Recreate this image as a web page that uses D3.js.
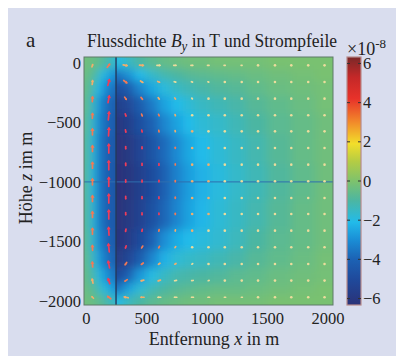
<!DOCTYPE html>
<html>
<head>
<meta charset="utf-8">
<script src="https://cdn.jsdelivr.net/npm/d3@7"></script>
<style>
  body { margin: 0; background: #fff; }
  svg { display: block; font-family: "Liberation Serif", "DejaVu Serif", serif; }
</style>
</head>
<body>
<svg id="chart" width="396" height="356"></svg>
<script>
// ---- data ----
// B_y field, in 1e-8 T, left of the cable (x < 250 m) and right of it
const fieldXLeft = [0, 50, 100, 150, 200, 250];
const fieldXRight = [270, 350, 450, 550, 650, 750, 850, 950, 1100, 1250, 1400, 1600, 1800, 2000];
const fieldZ = [0, -100, -200, -350, -500, -700, -1000, -1300, -1500, -1650, -1800, -1900, -2000];

const byLeft = [
    [-0.3, -0.4, -0.6, -0.9, -1.3, -1.8],
    [-0.4, -0.7, -1.4, -2.1, -2.7, -3.1],
    [-0.5, -1.0, -2.1, -2.9, -3.4, -3.8],
    [-0.6, -1.4, -2.7, -3.5, -3.9, -4.2],
    [-0.7, -1.6, -3.0, -3.7, -4.1, -4.4],
    [-0.8, -1.8, -3.2, -3.9, -4.2, -4.5],
    [-0.8, -1.9, -3.3, -3.9, -4.3, -4.6],
    [-0.8, -1.8, -3.2, -3.9, -4.2, -4.5],
    [-0.7, -1.6, -3.0, -3.7, -4.1, -4.4],
    [-0.6, -1.4, -2.6, -3.4, -3.8, -4.2],
    [-0.5, -1.0, -1.9, -2.7, -3.3, -3.7],
    [-0.4, -0.7, -1.3, -1.9, -2.5, -3.0],
    [-0.3, -0.4, -0.6, -0.9, -1.3, -1.7],
];

const byRight = [
    [-2.0, -1.5, -1.0, -0.7, -0.5, -0.4, -0.3, -0.3, -0.2, -0.2, -0.2, -0.1, -0.1, -0.1],
    [-3.6, -2.9, -2.1, -1.6, -1.2, -1.0, -0.8, -0.7, -0.6, -0.5, -0.4, -0.3, -0.2, -0.1],
    [-4.8, -4.2, -3.2, -2.5, -1.9, -1.5, -1.3, -1.1, -0.9, -0.8, -0.6, -0.4, -0.3, -0.2],
    [-5.6, -5.1, -4.2, -3.4, -2.6, -2.1, -1.8, -1.5, -1.3, -1.1, -0.8, -0.6, -0.4, -0.2],
    [-6.0, -5.6, -4.8, -4.0, -3.2, -2.6, -2.1, -1.8, -1.6, -1.3, -1.0, -0.7, -0.5, -0.3],
    [-6.2, -5.9, -5.3, -4.6, -3.8, -3.1, -2.5, -2.1, -1.8, -1.5, -1.2, -0.8, -0.5, -0.3],
    [-6.3, -6.0, -5.5, -4.9, -4.1, -3.3, -2.7, -2.3, -1.9, -1.6, -1.3, -0.9, -0.6, -0.3],
    [-6.2, -5.9, -5.4, -4.7, -3.9, -3.2, -2.6, -2.2, -1.8, -1.5, -1.2, -0.8, -0.5, -0.3],
    [-6.1, -5.7, -5.0, -4.0, -3.0, -2.4, -2.1, -1.9, -1.7, -1.4, -1.0, -0.7, -0.5, -0.3],
    [-5.8, -5.2, -4.2, -3.2, -2.3, -1.8, -1.6, -1.5, -1.3, -1.1, -0.8, -0.6, -0.4, -0.2],
    [-5.0, -4.0, -2.8, -2.0, -1.5, -1.2, -1.1, -1.0, -0.9, -0.7, -0.6, -0.4, -0.3, -0.2],
    [-3.6, -2.6, -1.8, -1.3, -1.0, -0.8, -0.7, -0.6, -0.5, -0.5, -0.4, -0.3, -0.2, -0.1],
    [-2.0, -1.4, -1.0, -0.7, -0.5, -0.4, -0.3, -0.3, -0.2, -0.2, -0.2, -0.1, -0.1, -0.1],
];

// current arrows: grid positions (m), components in px (u to the right, w upward)
const arrowX = [55, 190, 330, 465, 605, 740, 880, 1015, 1150, 1290, 1425, 1565, 1700, 1840, 1975];
const arrowZ = [-20, -160, -300, -440, -575, -715, -855, -995, -1135, -1270, -1410, -1550, -1690, -1830, -1970];

const arrowU = [
    [1, 3, 5, 5, 4, 3, 2.5, 2, 1.5, 1.2, 1, 0.8, 0.6, 0.5, 0.4],
    [0.5, 2, 4, 3, 2.5, 2, 1.5, 1.2, 1, 0.8, 0.6, 0.5, 0.4, 0.3, 0.3],
    [0.3, 1.5, 2, 2, 1.5, 1, 0.8, 0.6, 0.5, 0.4, 0.3, 0.3, 0.2, 0.2, 0.2],
    [0.2, 1, 1, 1, 0.8, 0.5, 0.4, 0.3, 0.2, 0.2, 0.2, 0.1, 0.1, 0.1, 0.1],
    [0, 0.5, 0.5, 0.5, 0.3, 0.3, 0.2, 0.2, 0.1, 0.1, 0.1, 0.1, 0, 0, 0],
    [0, 0, 0, 0, 0, 0, 0, 0, 0, 0, 0, 0, 0, 0, 0],
    [0, 0, 0, 0, 0, 0, 0, 0, 0, 0, 0, 0, 0, 0, 0],
    [0, 0, 0, 0, 0, 0, 0, 0, 0, 0, 0, 0, 0, 0, 0],
    [0, 0, 0, 0, 0, 0, 0, 0, 0, 0, 0, 0, 0, 0, 0],
    [0, 0, 0, 0, 0, 0, 0, 0, 0, 0, 0, 0, 0, 0, 0],
    [0, -0.5, -0.5, -0.5, -0.3, -0.3, -0.2, -0.2, -0.1, -0.1, -0.1, -0.1, 0, 0, 0],
    [-0.2, -1, -1, -1.5, -1, -0.8, -0.5, -0.3, -0.2, -0.2, -0.2, -0.1, -0.1, -0.1, -0.1],
    [-0.3, -1.5, -2, -2.5, -2, -1.5, -1, -0.6, -0.5, -0.4, -0.3, -0.3, -0.2, -0.2, -0.2],
    [-1, -2, -3, -3.5, -3, -2.5, -2, -1.2, -1, -0.8, -0.6, -0.5, -0.4, -0.3, -0.3],
    [-2, -4, -5, -4, -3.5, -3, -2.5, -2, -1.5, -1.2, -1, -0.8, -0.6, -0.5, -0.4],
];

const arrowW = [
    [3, 4, -1, -0.5, 0, 0, 0, 0, 0, 0, 0, 0, 0, 0, 0],
    [5, 7, -3, -2, -1, -0.5, -0.5, -0.4, -0.3, -0.3, -0.2, -0.2, -0.2, -0.1, -0.1],
    [6, 8, -3, -2.5, -2, -1.5, -1, -0.8, -0.6, -0.5, -0.4, -0.3, -0.3, -0.2, -0.2],
    [6, 9, -3, -2.5, -2, -1.5, -1, -0.8, -0.6, -0.5, -0.4, -0.3, -0.3, -0.2, -0.2],
    [7, 9, -3, -2.5, -2, -1.5, -1, -0.8, -0.6, -0.5, -0.4, -0.3, -0.3, -0.2, -0.2],
    [7, 10, -3, -2.5, -2, -1.5, -1, -0.8, -0.6, -0.5, -0.4, -0.3, -0.3, -0.2, -0.2],
    [7, 10, -3, -2.5, -2, -1.5, -1, -0.8, -0.6, -0.5, -0.4, -0.3, -0.3, -0.2, -0.2],
    [7, 10, -3, -2.5, -2, -1.5, -1, -0.8, -0.6, -0.5, -0.4, -0.3, -0.3, -0.2, -0.2],
    [7, 10, -3, -2.5, -2, -1.5, -1, -0.8, -0.6, -0.5, -0.4, -0.3, -0.3, -0.2, -0.2],
    [7, 10, -3, -2.5, -2, -1.5, -1, -0.8, -0.6, -0.5, -0.4, -0.3, -0.3, -0.2, -0.2],
    [7, 9, -3, -2.5, -2, -1.5, -1, -0.8, -0.6, -0.5, -0.4, -0.3, -0.3, -0.2, -0.2],
    [6, 9, -3, -2.5, -2, -1.5, -1, -0.8, -0.6, -0.5, -0.4, -0.3, -0.3, -0.2, -0.2],
    [6, 8, -3, -2, -1.5, -1, -0.8, -0.8, -0.6, -0.5, -0.4, -0.3, -0.3, -0.2, -0.2],
    [5, 6, -2, -1, -1, -0.5, -0.3, -0.4, -0.3, -0.3, -0.2, -0.2, -0.2, -0.1, -0.1],
    [2, 3, 1, 0, 0, 0, 0, 0, 0, 0, 0, 0, 0, 0, 0],
];

// arrow colour level per row (0 pale ... 3 red)
const arrowLevel = [
    "121100000000000",
    "132110000000000",
    "232211000000000",
    "233221000000000",
    "233321100000000",
    "233332110000000",
    "233332110000000",
    "233332110000000",
    "233332110000000",
    "233332110000000",
    "233321100000000",
    "233221000000000",
    "232211000000000",
    "132110000000000",
    "121100000000000",
];
const arrowColors = ["#ecdc9c", "#f3ae6c", "#f27a56", "#ef3c5a"];

const cableX = 250;      // vertical cable line
const levelZ = -1000;    // horizontal line

const xTicks = [0, 500, 1000, 1500, 2000];
const zTicks = [0, -500, -1000, -1500, -2000];
const colorTicks = [-6, -4, -2, 0, 2, 4, 6];

// washed-out jet colour map
const colorStopValues = [-6.33, -5.0, -4.0, -3.0, -2.1, -1.0, 0.0, 1.0, 1.9, 3.0, 4.2, 5.3, 6.33];
const colorStopColors = ["#2a3278", "#1f4a9c", "#1c62b4", "#1a8ed6", "#22bbea", "#4cb6a2", "#7ec26c",
    "#b4cc44", "#f2de2a", "#f28a2a", "#e8322a", "#c42828", "#7a2828"];

// ---- layout ----
const plot = { left: 84, top: 57, width: 249, height: 248 };
const bar = { left: 347, width: 14 };

const svg = d3.select("#chart");

svg.append("rect")
    .attr("x", 8).attr("y", 8)
    .attr("width", 388).attr("height", 348)
    .attr("fill", "#d9ddee");

const x = d3.scaleLinear().domain([-15, 2045]).range([plot.left, plot.left + plot.width]);
const z = d3.scaleLinear().domain([50, -2035]).range([plot.top, plot.top + plot.height]);
const color = d3.scaleLinear().domain(colorStopValues).range(colorStopColors).clamp(true);

const defs = svg.append("defs");
defs.append("filter")
    .attr("id", "soft")
    .attr("x", "-20%").attr("y", "-20%").attr("width", "140%").attr("height", "140%")
    .append("feGaussianBlur")
    .attr("stdDeviation", 4);

defs.append("clipPath").attr("id", "clipLeft")
    .append("rect")
    .attr("x", x(-15)).attr("y", plot.top)
    .attr("width", x(cableX) - x(-15)).attr("height", plot.height);
defs.append("clipPath").attr("id", "clipRight")
    .append("rect")
    .attr("x", x(cableX)).attr("y", plot.top)
    .attr("width", x(2045) - x(cableX)).attr("height", plot.height);

// cell edges: midpoints between neighbours, outer cells pushed past the clip
function edges(vals, pad) {
    return vals.map((v, k) => [
        k === 0 ? v - pad : (vals[k - 1] + v) / 2,
        k === vals.length - 1 ? v + pad : (v + vals[k + 1]) / 2,
    ]);
}

svg.append("rect")
    .attr("x", plot.left).attr("y", plot.top)
    .attr("width", plot.width).attr("height", plot.height)
    .attr("fill", color(-0.2));

function drawField(xs, values, clipId) {
    const xe = edges(xs, 150);
    const ze = edges(fieldZ, -150);
    const cells = [];
    values.forEach((row, j) => row.forEach((v, i) => cells.push({ i, j, v })));

    svg.append("g")
        .attr("clip-path", `url(#${clipId})`)
        .append("g")
        .attr("filter", "url(#soft)")
        .selectAll("rect")
        .data(cells)
        .join("rect")
        .attr("x", d => x(xe[d.i][0]))
        .attr("width", d => x(xe[d.i][1]) - x(xe[d.i][0]) + 0.5)
        .attr("y", d => z(ze[d.j][0]))
        .attr("height", d => z(ze[d.j][1]) - z(ze[d.j][0]) + 0.5)
        .attr("fill", d => color(d.v));
}

drawField(fieldXLeft, byLeft, "clipLeft");
drawField(fieldXRight, byRight, "clipRight");

// horizontal and vertical lines
svg.append("line")
    .attr("x1", x(-15)).attr("x2", x(2045))
    .attr("y1", z(levelZ)).attr("y2", z(levelZ))
    .attr("stroke", "#2f6fae").attr("stroke-width", 1);
svg.append("line")
    .attr("x1", x(cableX)).attr("x2", x(cableX))
    .attr("y1", plot.top).attr("y2", plot.top + plot.height)
    .attr("stroke", "#243a5c").attr("stroke-width", 1.4);

// current arrows
const arrows = [];
arrowZ.forEach((zv, j) => arrowX.forEach((xv, i) => {
    arrows.push({ xv, zv, u: arrowU[j][i], w: arrowW[j][i], c: arrowColors[+arrowLevel[j][i]] });
}));

const arrowG = svg.append("g").attr("class", "arrows");
arrows.forEach(d => {
    const cx = x(d.xv), cy = z(d.zv);
    const dx = d.u, dy = -d.w;
    const len = Math.hypot(dx, dy);
    if (len < 1.2) {
        arrowG.append("circle")
            .attr("cx", cx).attr("cy", cy).attr("r", 1.3)
            .attr("fill", d.c);
        return;
    }
    const ux = dx / len, uy = dy / len;
    const x0 = cx - dx / 2, y0 = cy - dy / 2;
    const x1 = cx + dx / 2, y1 = cy + dy / 2;
    const h = Math.min(3.2, len * 0.5), hw = h * 0.65;
    arrowG.append("line")
        .attr("x1", x0).attr("y1", y0)
        .attr("x2", x1 - ux * h * 0.5).attr("y2", y1 - uy * h * 0.5)
        .attr("stroke", d.c).attr("stroke-width", 1.7)
        .attr("stroke-linecap", "round");
    arrowG.append("path")
        .attr("d", `M${x1},${y1}L${x1 - ux * h - uy * hw},${y1 - uy * h + ux * hw}L${x1 - ux * h + uy * hw},${y1 - uy * h - ux * hw}Z`)
        .attr("fill", d.c);
});

// frame
svg.append("rect")
    .attr("x", plot.left).attr("y", plot.top)
    .attr("width", plot.width).attr("height", plot.height)
    .attr("fill", "none").attr("stroke", "#5f7a68").attr("stroke-width", 1);

// axes
const xAxisG = svg.append("g")
    .attr("transform", `translate(0,${plot.top + plot.height})`)
    .call(d3.axisBottom(x).tickValues(xTicks).tickFormat(d3.format("d")).tickSize(0).tickPadding(7));
const zAxisG = svg.append("g")
    .attr("transform", `translate(${plot.left},0)`)
    .call(d3.axisLeft(z).tickValues(zTicks).tickFormat(d3.format("d")).tickSize(0).tickPadding(3));
[xAxisG, zAxisG].forEach(g => {
    g.select(".domain").remove();
    g.attr("font-family", null).attr("font-size", null);
    g.selectAll("text")
        .attr("font-family", "Liberation Serif, serif")
        .attr("font-size", 16.5)
        .attr("fill", "#222");
});

// colour bar
const cScale = d3.scaleLinear().domain([-6.33, 6.33]).range([plot.top + plot.height, plot.top]);
const grad = defs.append("linearGradient")
    .attr("id", "cbar")
    .attr("x1", 0).attr("y1", 1).attr("x2", 0).attr("y2", 0);
grad.selectAll("stop")
    .data(colorStopValues)
    .join("stop")
    .attr("offset", v => (v - cScale.domain()[0]) / (cScale.domain()[1] - cScale.domain()[0]))
    .attr("stop-color", v => color(v));

svg.append("rect")
    .attr("x", bar.left).attr("y", plot.top)
    .attr("width", bar.width).attr("height", plot.height)
    .attr("fill", "url(#cbar)")
    .attr("stroke", "#b88a8a").attr("stroke-width", 1.2);

const cbTicks = svg.append("g").selectAll("g")
    .data(colorTicks)
    .join("g")
    .attr("transform", d => `translate(0,${cScale(d)})`);
cbTicks.append("line")
    .attr("x1", bar.left).attr("x2", bar.left + 3)
    .attr("stroke", "#333").attr("stroke-width", 1);
cbTicks.append("line")
    .attr("x1", bar.left + bar.width - 3).attr("x2", bar.left + bar.width)
    .attr("stroke", "#333").attr("stroke-width", 1);
cbTicks.append("text")
    .attr("x", bar.left + bar.width + 2)
    .attr("dy", "0.34em")
    .attr("font-size", 16.5)
    .attr("fill", "#222")
    .text(d => d3.format("d")(d));

// texts
svg.append("text")
    .attr("x", 26).attr("y", 47)
    .attr("font-size", 21)
    .attr("fill", "#222")
    .text("a");

const title = svg.append("text")
    .attr("x", 87).attr("y", 47)
    .attr("font-size", 19)
    .attr("fill", "#222")
    .attr("textLength", 250)
    .attr("lengthAdjust", "spacingAndGlyphs");
title.append("tspan").text("Flussdichte ");
title.append("tspan").attr("font-style", "italic").text("B");
title.append("tspan").attr("font-style", "italic").attr("font-size", 14).attr("dy", 4).text("y");
title.append("tspan").attr("dy", -4).text(" in T und Strompfeile");

const mult = svg.append("text")
    .attr("x", 347).attr("y", 55)
    .attr("font-size", 18)
    .attr("fill", "#222");
mult.append("tspan").text("×10");
mult.append("tspan").attr("font-size", 13).attr("dy", -7).text("-8");

const xLabel = svg.append("text")
    .attr("x", 214).attr("y", 345)
    .attr("text-anchor", "middle")
    .attr("font-size", 18)
    .attr("fill", "#222");
xLabel.append("tspan").text("Entfernung ");
xLabel.append("tspan").attr("font-style", "italic").text("x");
xLabel.append("tspan").text(" in m");

const zLabel = svg.append("text")
    .attr("transform", "translate(32,178) rotate(-90)")
    .attr("text-anchor", "middle")
    .attr("font-size", 18)
    .attr("fill", "#222");
zLabel.append("tspan").text("Höhe ");
zLabel.append("tspan").attr("font-style", "italic").text("z");
zLabel.append("tspan").text(" im m");
</script>
</body>
</html>
